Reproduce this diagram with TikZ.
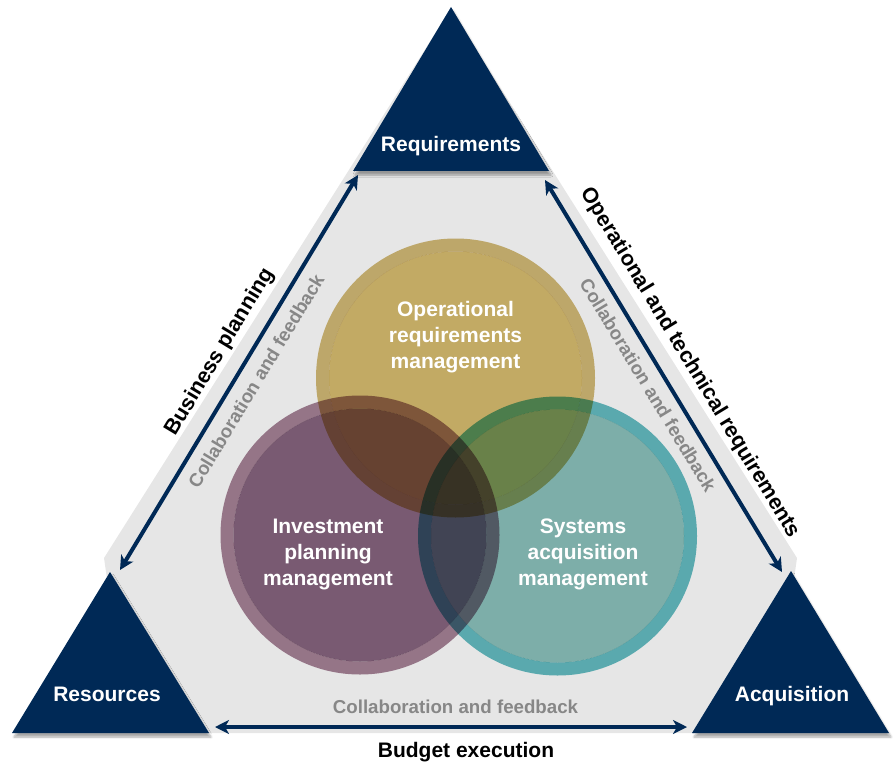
\documentclass[tikz,border=0pt]{standalone}
\usepackage{fontspec}
\setmainfont{Liberation Sans}
\usetikzlibrary{arrows.meta,shadows.blur}
\definecolor{navy}{RGB}{0,41,86}
\definecolor{bggray}{RGB}{230,230,230}
\definecolor{cfgray}{RGB}{135,135,135}
\definecolor{goldring}{RGB}{210,186,118}
\definecolor{goldin}{RGB}{216,189,111}
\definecolor{purring}{RGB}{166,130,150}
\definecolor{purin}{RGB}{135,100,127}
\definecolor{tealring}{RGB}{100,188,194}
\definecolor{tealin}{RGB}{139,194,188}
\begin{document}
\begin{tikzpicture}[x=1pt,y=-1pt,
  corner/.style={fill=navy,blur shadow={shadow xshift=2pt,shadow yshift=-4pt,shadow blur steps=6,shadow opacity=35}},
  cornerlabel/.style={text=white,font=\fontsize{21}{25}\selectfont\bfseries,anchor=base,inner sep=0pt},
  circtext/.style={text=white,font=\fontsize{21}{26}\selectfont\bfseries,align=center,inner sep=0pt},
  sidelabel/.style={text=black,font=\fontsize{21.5}{26}\selectfont\bfseries,inner sep=0pt},
  cflabel/.style={text=cfgray,font=\fontsize{18.7}{22}\selectfont\bfseries,inner sep=0pt},
  link/.style={navy,line width=4pt,{Stealth[length=14pt,width=14pt,inset=4pt]}-{Stealth[length=14pt,width=14pt,inset=4pt]}},
  ringfill/.style={blend mode=multiply,even odd rule},
  discfill/.style={blend mode=multiply}]
\useasboundingbox (0,0) rectangle (896,762);
% background
\fill[bggray] (450.5,9) -- (104,558) -- (110,600) -- (110,733) -- (791,733) -- (791,600) -- (797,558) -- cycle;
% corner triangles
\fill[corner] (451,7) -- (549,171) -- (353,171) -- cycle;
\fill[corner] (110,572) -- (209,733) -- (12,733) -- cycle;
\fill[corner] (791,571) -- (889,733) -- (692,733) -- cycle;
% circles
\coordinate (cg) at (455.5,378);
\coordinate (cp) at (360,535);
\coordinate (ct) at (557.5,536);
\fill[goldring,ringfill] (cg) circle[radius=139.5pt] (cg) circle[radius=126.5pt];
\fill[goldin,discfill] (cg) circle[radius=126.5pt];
\fill[purring,ringfill] (cp) circle[radius=139.5pt] (cp) circle[radius=126.5pt];
\fill[purin,discfill] (cp) circle[radius=126.5pt];
\fill[tealring,ringfill] (ct) circle[radius=139.5pt] (ct) circle[radius=126.5pt];
\fill[tealin,discfill] (ct) circle[radius=126.5pt];
% labels
\node[cornerlabel] (req) at (451,152) {Requirements};
\node[cornerlabel] (res) at (107,701) {Resources};
\node[cornerlabel] (acq) at (792,701) {Acquisition};
\node[circtext] (opt) at (455.5,337) {Operational\\requirements\\management};
\node[circtext] (inv) at (328,554) {Investment\\planning\\management};
\node[circtext] (sys) at (583,554) {Systems\\acquisition\\management};
% arrows
\coordinate (lA) at (120,570); \coordinate (lB) at (358,175);
\coordinate (rA) at (545,180); \coordinate (rB) at (782,572);
\coordinate (bA) at (215,727); \coordinate (bB) at (687,727);
\draw[link] (lA) -- (lB);
\draw[link] (rA) -- (rB);
\draw[link] (bA) -- (bB);
\node[sidelabel,rotate=58.9] (bp) at (220,352) {Business planning};
\node[cflabel,rotate=58.9] (cfl) at (256,381) {Collaboration and feedback};
\node[sidelabel,rotate=-58.8] (otr) at (690,363) {Operational and technical requirements};
\node[cflabel,rotate=-58.8] (cfr) at (648,385) {Collaboration and feedback};
\node[cflabel,anchor=base] (cfb) at (455.5,713) {Collaboration and feedback};
\node[sidelabel,anchor=base,font=\fontsize{21}{25}\selectfont\bfseries] (be) at (466,757) {Budget execution};
\end{tikzpicture}
\end{document}
